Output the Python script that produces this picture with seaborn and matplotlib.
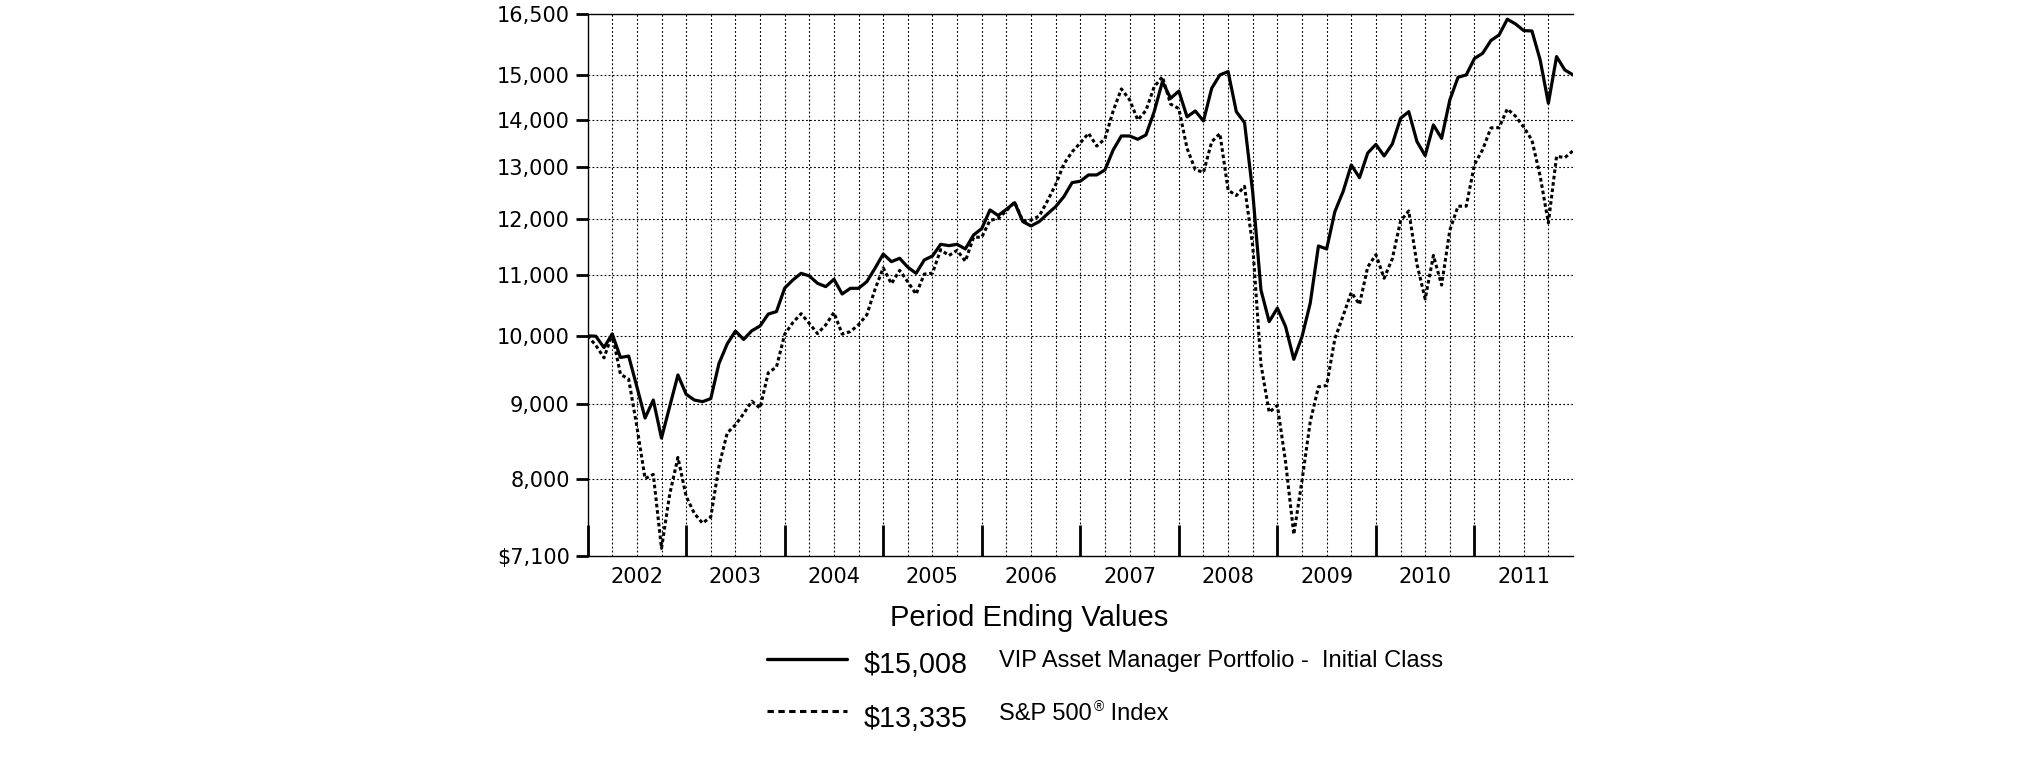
import matplotlib
matplotlib.use("Agg")
import matplotlib.pyplot as plt
from matplotlib.lines import Line2D
from matplotlib.ticker import NullLocator
import pandas as pd
import seaborn as sns

# ---------------- data ----------------
# month index 0 = Dec 2001 ... 120 = Dec 2011 (hypothetical $10,000 investment)
months = list(range(121))

fund_values = [
    10000,
    9995, 9820, 10030, 9670, 9690, 9240, 8800, 9050, 8530, 8960, 9410, 9132,
    9050, 9027, 9070, 9580, 9875, 10075, 9945, 10080, 10155, 10345, 10385, 10771,
    10909, 11022, 10977, 10852, 10796, 10920, 10673, 10768, 10768, 10880, 11109, 11358,
    11224, 11283, 11127, 11022, 11253, 11324, 11531, 11507, 11531, 11448, 11699, 11817,
    12164, 12060, 12176, 12303, 11946, 11865, 11946, 12089, 12227, 12419, 12692, 12720,
    12845, 12845, 12945, 13354, 13648, 13648, 13578, 13670, 14174, 14852, 14472, 14635,
    14060, 14189, 13970, 14699, 15008, 15086, 14174, 13933, 12500, 10740, 10224, 10441,
    10145, 9642, 9988, 10520, 11501, 11448, 12133, 12516, 13047, 12790, 13290, 13470,
    13230, 13480, 14029, 14174, 13528, 13237, 13884, 13598, 14435, 14953, 15008, 15396,
    15522, 15832, 15972, 16366, 16247, 16079, 16070, 15362, 14361, 15442, 15125, 15008,
]

sp500_values = [
    10000,
    9854, 9664, 10027, 9420, 9350, 8684, 8008, 8061, 7185, 7817, 8277, 7790,
    7586, 7472, 7545, 8167, 8597, 8707, 8860, 9033, 8937, 9443, 9526, 10025,
    10209, 10351, 10195, 10035, 10172, 10370, 10027, 10067, 10176, 10332, 10750, 11116,
    10845, 11073, 10877, 10670, 11009, 11025, 11435, 11331, 11423, 11232, 11657, 11660,
    11969, 12001, 12150, 12313, 11958, 11975, 12049, 12336, 12654, 13067, 13315, 13501,
    13705, 13436, 13587, 14189, 14684, 14440, 13992, 14202, 14733, 14967, 14341, 14242,
    13387, 12952, 12896, 13524, 13700, 12545, 12440, 12620, 11496, 9566, 8879, 8973,
    8217, 7342, 7985, 8749, 9238, 9256, 9956, 10315, 10700, 10501, 11131, 11346,
    10938, 11277, 11957, 12146, 11176, 10591, 11333, 10822, 11787, 12235, 12236, 13053,
    13362, 13820, 13826, 14235, 14074, 13839, 13558, 12822, 11921, 13224, 13195, 13335,
]

year_labels = ["2002", "2003", "2004", "2005", "2006", "2007", "2008", "2009", "2010", "2011"]
y_ticks = [7100, 8000, 9000, 10000, 11000, 12000, 13000, 14000, 15000, 16500]
y_tick_labels = ["$7,100", "8,000", "9,000", "10,000", "11,000", "12,000",
                 "13,000", "14,000", "15,000", "16,500"]
legend_title = "Period Ending Values"
legend_values = ["$15,008", "$13,335"]
legend_names = ["VIP Asset Manager Portfolio -  Initial Class", "S&P 500"]

# ---------------- style ----------------
sns.set_theme(style="white")
plt.rcParams["font.family"] = ["DejaVu Sans"]
plt.rcParams["lines.scale_dashes"] = False

W, H = 2025, 761
fig = plt.figure(figsize=(W / 100, H / 100), dpi=100)
fig.patch.set_facecolor("white")
ax = fig.add_axes([587.6 / W, 1 - 556 / H, (1573 - 587.6) / W, (556 - 14) / H])
ax.set_facecolor("white")

df = pd.DataFrame({"month": months, "fund": fund_values, "sp500": sp500_values})

ax.set_yscale("log")

# grid (dotted)
grid_kw = dict(color="black", linewidth=0.8, linestyle=(0, (1.3, 1.6)), zorder=0.5)
for v in y_ticks[1:-1]:
    ax.axhline(v, **grid_kw)
for q in range(3, 120, 3):
    ax.axvline(q, **grid_kw)

sns.lineplot(data=df, x="month", y="sp500", ax=ax, color="black",
             linewidth=2.2, linestyle=(0, (2.6, 2.0)), zorder=3)
sns.lineplot(data=df, x="month", y="fund", ax=ax, color="black",
             linewidth=2.3, zorder=4)

ax.set_xlim(0, 120)
ax.set_ylim(7100, 16500)
ax.set_xlabel("")
ax.set_ylabel("")

# y axis
ax.yaxis.set_minor_locator(NullLocator())
ax.set_yticks(y_ticks)
ax.set_yticklabels(y_tick_labels)
ax.tick_params(axis="y", which="major", direction="out", length=8.6, width=2.0,
               pad=4.3, labelsize=15, color="black", labelcolor="black", left=True)

# x axis: year boundary ticks (inside) and year labels at mid-year
ax.set_xticks(list(range(0, 120, 12)))
ax.set_xticklabels([""] * 10)
ax.set_xticks(list(range(6, 120, 12)), minor=True)
ax.set_xticklabels(year_labels, minor=True)
ax.tick_params(axis="x", which="major", direction="in", length=22, width=2.0,
               color="black", bottom=True, top=False)
ax.tick_params(axis="x", which="minor", length=0, pad=8, labelsize=15,
               labelcolor="black", bottom=True, top=False)

for side in ["left", "bottom", "top"]:
    ax.spines[side].set_visible(True)
    ax.spines[side].set_color("black")
    ax.spines[side].set_linewidth(1.0)
ax.spines["right"].set_visible(False)

# ---------------- legend block ----------------
LF = "Liberation Sans"
fig.text(1029.5 / W, 1 - 626 / H, legend_title, ha="center", va="baseline",
         fontsize=21, family=LF, color="black")

fig.add_artist(Line2D([767.3 / W, 847.3 / W], [1 - 659 / H] * 2,
                      transform=fig.transFigure, color="black", linewidth=2.4))
fig.add_artist(Line2D([767.3 / W, 847.3 / W], [1 - 710.7 / H] * 2,
                      transform=fig.transFigure, color="black", linewidth=2.2,
                      linestyle=(0, (4.6, 3.2))))

fig.text(864 / W, 1 - 673.3 / H, legend_values[0], ha="left", va="baseline",
         fontsize=20.7, family=LF, color="black")
fig.text(864 / W, 1 - 726.7 / H, legend_values[1], ha="left", va="baseline",
         fontsize=20.7, family=LF, color="black")

fig.text(999.3 / W, 1 - 666.7 / H, legend_names[0], ha="left", va="baseline",
         fontsize=17, family=LF, color="black")
t1 = fig.text(999.3 / W, 1 - 720 / H, legend_names[1], ha="left", va="baseline",
              fontsize=17, family=LF, color="black")
fig.canvas.draw()
r = fig.canvas.get_renderer()
b1 = t1.get_window_extent(r)
t2 = fig.text((b1.x1 + 2) / W, 1 - 711 / H, "\u00ae", ha="left", va="baseline",
              fontsize=10, family=LF, color="black")
b2 = t2.get_window_extent(r)
fig.text(b2.x1 / W, 1 - 720 / H, " Index", ha="left", va="baseline",
         fontsize=17, family=LF, color="black")

fig.savefig("out.png", dpi=100, facecolor="white")
